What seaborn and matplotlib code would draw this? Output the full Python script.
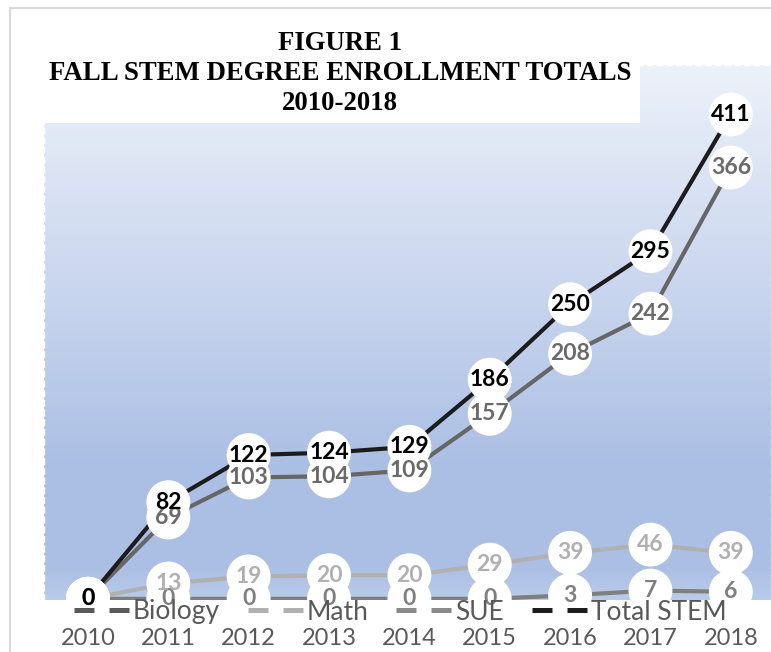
import numpy as np
import pandas as pd
import matplotlib
matplotlib.use("Agg")
import matplotlib.pyplot as plt
from matplotlib.lines import Line2D
from matplotlib.patches import Rectangle
from matplotlib.colors import LinearSegmentedColormap
import seaborn as sns

years = ["2010", "2011", "2012", "2013", "2014", "2015", "2016", "2017", "2018"]
biology = [0, 0, 0, 0, 0, 0, 3, 7, 6]
math_ = [0, 13, 19, 20, 20, 29, 39, 46, 39]
sue = [0, 69, 103, 104, 109, 157, 208, 242, 366]
total_stem = [0, 82, 122, 124, 129, 186, 250, 295, 411]
series_names = ["Biology", "Math", "SUE", "Total STEM"]

line_colors = {"Biology": "#7f7f7f", "Math": "#b0b0b0", "SUE": "#666666", "Total STEM": "#1c1c1c"}
label_colors = {"Biology": "#7f7f7f", "Math": "#b0b0b0", "SUE": "#6a6a6a", "Total STEM": "#000000"}
legend_colors = {"Biology": "#5a5a5a", "Math": "#b0b0b0", "SUE": "#8a8a8a", "Total STEM": "#1c1c1c"}

df = pd.DataFrame({
    "idx": list(range(len(years))) * 4,
    "value": biology + math_ + sue + total_stem,
    "series": sum([[s] * len(years) for s in series_names], []),
})

sns.set_theme(style="white")
plt.rcParams["font.family"] = ["Lato", "DejaVu Sans"]

W, H = 771, 652
fig = plt.figure(figsize=(W / 100, H / 100), dpi=100)
fig.patch.set_facecolor("white")

ax = fig.add_axes([44 / W, 1 - 600 / H, (771 - 44) / W, (600 - 65) / H])
ax.set_xlim(-0.547, 8.5)
ax.set_ylim(-1, 453)

# gradient background
cmap = LinearSegmentedColormap.from_list(
    "bg", [(0.0, "#b9cbea"), (0.06, "#abbfe4"), (0.25, "#abbfe4"),
           (0.6, "#cbd7ef"), (1.0, "#edf1f9")])
grad = np.linspace(0, 1, 256).reshape(-1, 1)
ax.imshow(grad, extent=[-0.547, 8.5, -1, 453], origin="lower", aspect="auto",
          cmap=cmap, zorder=0)

sns.lineplot(data=df, x="idx", y="value", hue="series", hue_order=series_names,
             palette=line_colors, linewidth=3, ax=ax, legend=False, zorder=2)

data_map = {"Biology": biology, "Math": math_, "SUE": sue, "Total STEM": total_stem}
for s in series_names:
    vals = data_map[s]
    xs = np.arange(len(vals))
    ax.scatter(xs, vals, s=1000, color="white", edgecolor="none", zorder=3, clip_on=False)
for k, s in enumerate(series_names):
    vals = data_map[s]
    for xi, v in enumerate(vals):
        ax.text(xi, v, str(v), ha="center", va="center", fontsize=16.5, fontweight="bold",
                color=label_colors[s], zorder=4 + k, clip_on=False)

for sp in ax.spines.values():
    sp.set_color("white")
    sp.set_linestyle((0, (4, 3)))
    sp.set_linewidth(1)
ax.spines["bottom"].set_visible(False)

ax.set_yticks([])
ax.set_xticks(range(len(years)))
ax.set_xticklabels(years, fontsize=17, color="#595959")
ax.tick_params(axis="x", length=0, pad=20)
ax.set_xlabel("")
ax.set_ylabel("")

# white title box
ax.add_patch(Rectangle((44 / W, 1 - 123 / H), (640 - 44) / W, (123 - 40) / H,
                       transform=fig.transFigure, facecolor="white", edgecolor="none",
                       zorder=20, clip_on=False))
title_lines = ["FIGURE 1", "FALL STEM DEGREE ENROLLMENT TOTALS", "2010-2018"]
for t, yy in zip(title_lines, [44, 73, 103]):
    fig.text(340 / W, 1 - yy / H, t, ha="center", va="center", fontsize=19.3,
             fontweight="bold", family="Liberation Serif", color="black", zorder=30)

# chart border
fig.add_artist(Line2D([10 / W, 10 / W, 1.0], [0.0, 1 - 8 / H, 1 - 8 / H],
                      transform=fig.transFigure, color="#d9d9d9", linewidth=1.5))

handles = [Line2D([0], [0], color=legend_colors[s], linewidth=3.6, linestyle=(0, (4.0, 3.0)))
           for s in series_names]
leg = ax.legend(handles, series_names, loc="center", bbox_to_anchor=(400 / W, 1 - 612 / H),
                bbox_transform=fig.transFigure, ncol=4, frameon=False, fontsize=19,
                handlelength=2.08, handletextpad=0.15, columnspacing=1.06, labelcolor="#595959",
                borderpad=0, borderaxespad=0)
leg.set_zorder(40)

fig.savefig("out.png", dpi=100, facecolor="white")
